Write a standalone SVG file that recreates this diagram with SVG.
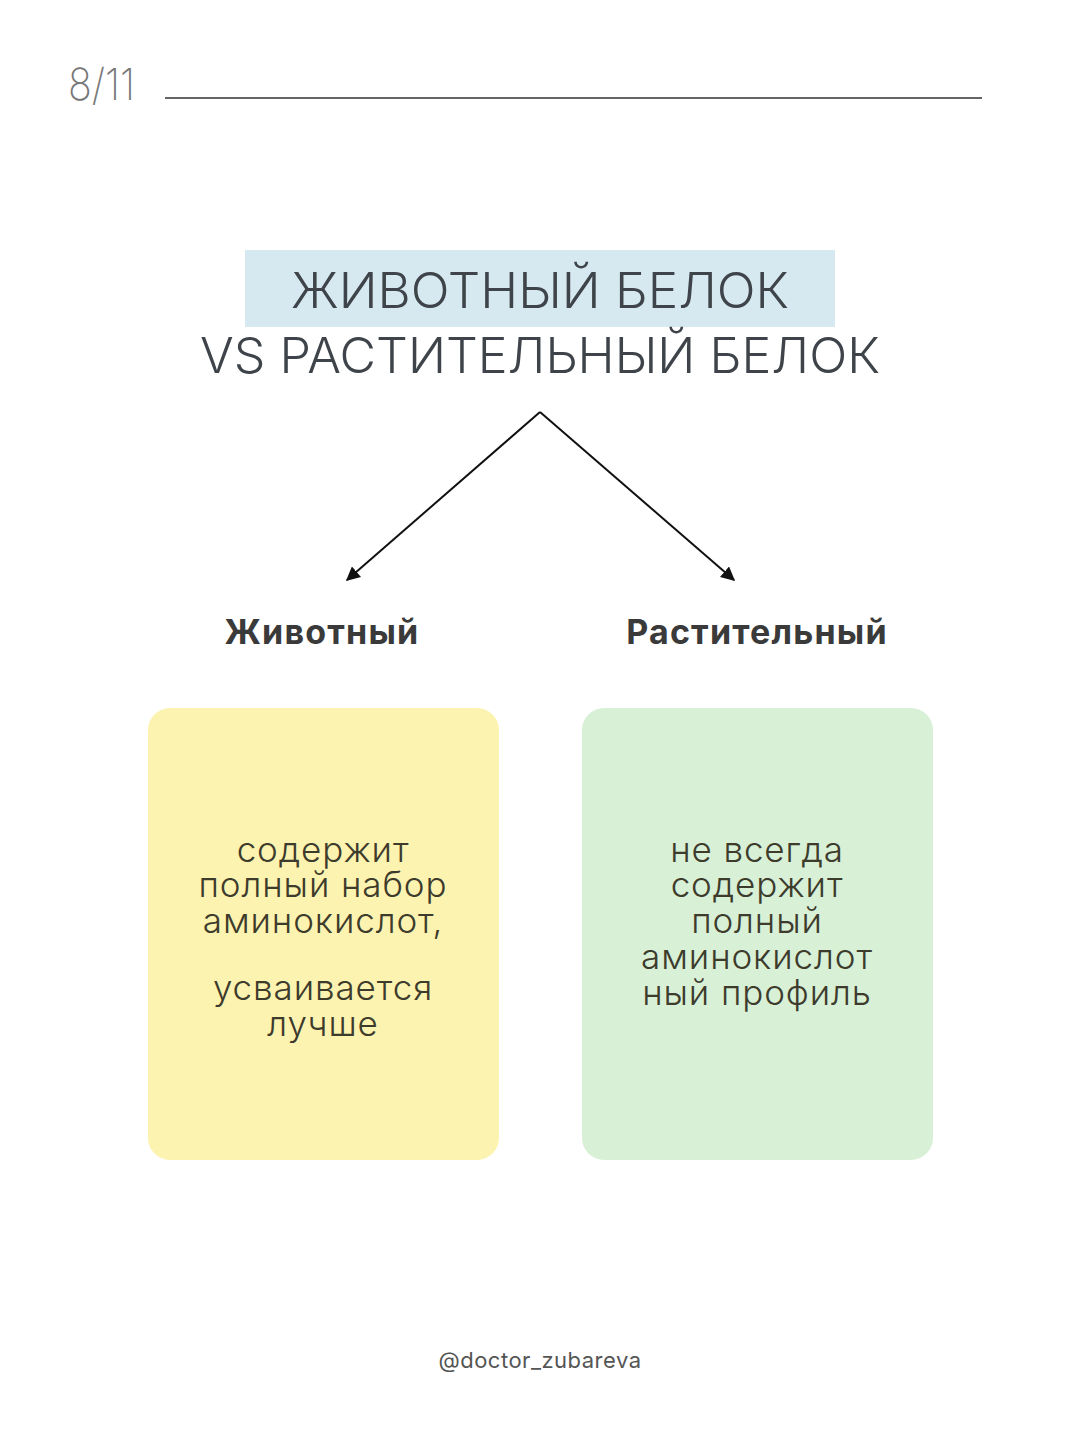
<svg xmlns="http://www.w3.org/2000/svg" width="1080" height="1440" viewBox="0 0 1080 1440">
<style>
.t{font-family:Inter,"Noto Sans","Liberation Sans",sans-serif;text-anchor:middle}
.title{font-size:49px;font-weight:300;fill:#3e444a}
.head{font-size:34px;font-weight:700;fill:#3a3a3a;letter-spacing:1.2px}
.body{font-size:35px;font-weight:300;fill:#3d3b2c;letter-spacing:0.9px}
.conn{stroke:#111;stroke-width:2;fill:none}
</style>
<defs>
<marker id="ah" viewBox="0 0 10 10" refX="9" refY="5" markerWidth="14" markerHeight="14" orient="auto" markerUnits="userSpaceOnUse">
<path d="M0,0 L10,5 L0,10 z" fill="#111"/>
</marker>
</defs>
<rect width="1080" height="1440" fill="#ffffff"/>
<g id="page-number">
<text x="68" y="100" textLength="67" lengthAdjust="spacingAndGlyphs" style="font-family:Inter,'Noto Sans',sans-serif;font-size:44px;font-weight:200;fill:#777">8/11</text>
<line x1="165" y1="98" x2="982" y2="98" stroke="#333" stroke-width="1.5"/>
</g>
<g id="title">
<rect x="245" y="250" width="590" height="77" fill="#d6e9f0"/>
<text class="t title" x="540" y="308" textLength="498" lengthAdjust="spacingAndGlyphs">ЖИВОТНЫЙ БЕЛОК</text>
<text class="t title" x="540" y="373" textLength="680" lengthAdjust="spacingAndGlyphs">VS РАСТИТЕЛЬНЫЙ БЕЛОК</text>
</g>
<g id="connectors">
<line class="conn" x1="540" y1="412" x2="347" y2="580" marker-end="url(#ah)"/>
<line class="conn" x1="540" y1="412" x2="734" y2="580" marker-end="url(#ah)"/>
</g>
<g id="animal">
<text class="t head" x="322" y="644">Животный</text>
<rect x="148" y="708" width="351" height="452" rx="22" fill="#fdf3b0"/>
<text class="t body" x="323" y="862"><tspan x="323" y="862">содержит</tspan><tspan x="323" y="897">полный набор</tspan><tspan x="323" y="933">аминокислот,</tspan><tspan x="323" y="1000">усваивается</tspan><tspan x="323" y="1036">лучше</tspan></text>
</g>
<g id="plant">
<text class="t head" x="757" y="644">Растительный</text>
<rect x="582" y="708" width="351" height="452" rx="22" fill="#d8f0d6"/>
<text class="t body" x="757" y="862"><tspan x="757" y="862">не всегда</tspan><tspan x="757" y="897">содержит</tspan><tspan x="757" y="933">полный</tspan><tspan x="757" y="969">аминокислот</tspan><tspan x="757" y="1005">ный профиль</tspan></text>
</g>
<g id="footer">
<text class="t" x="540" y="1368" style="font-size:22px;font-weight:400;fill:#555;letter-spacing:0.5px">@doctor_zubareva</text>
</g>
</svg>
